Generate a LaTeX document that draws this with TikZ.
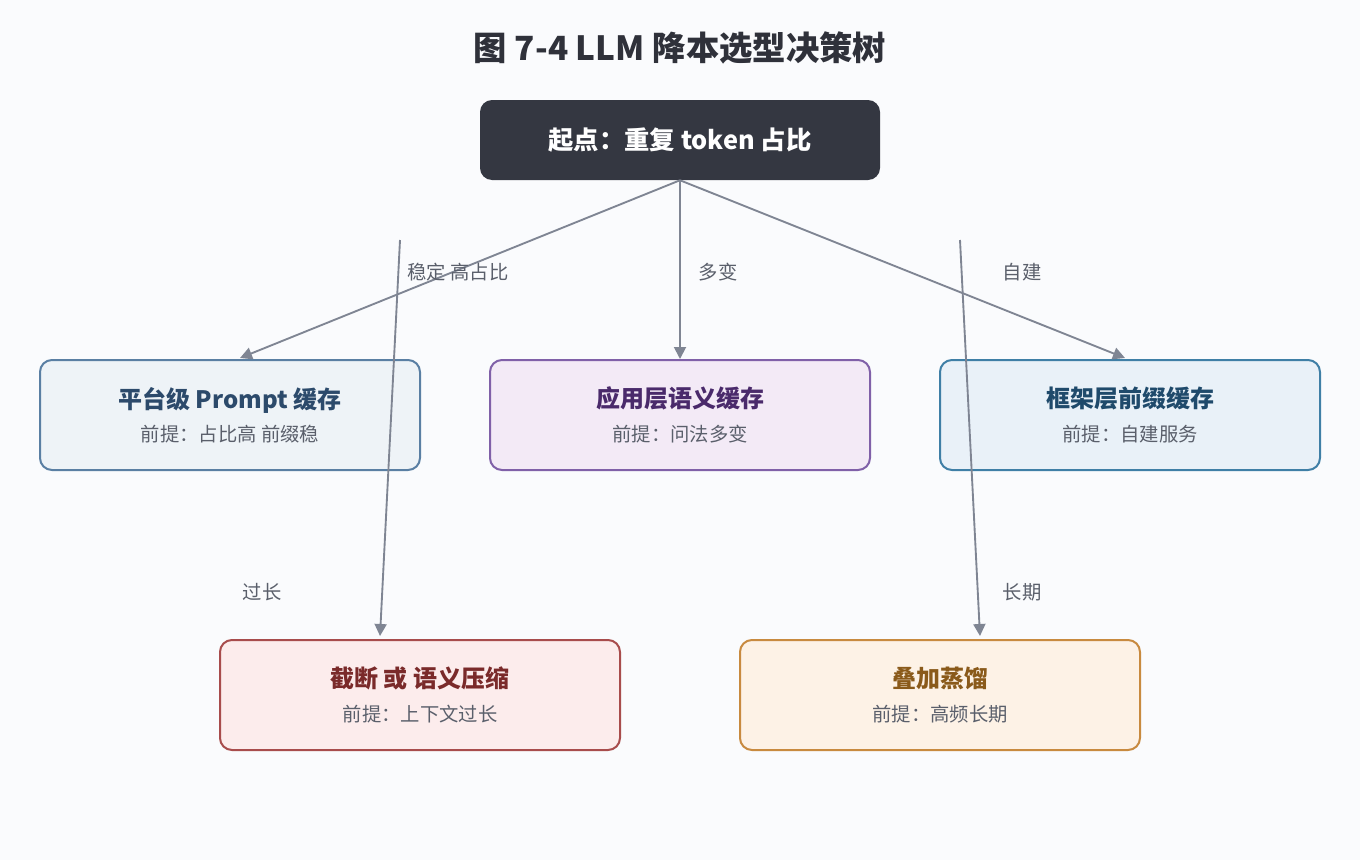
\documentclass[tikz,border=0pt]{standalone}
\usepackage{fontspec}
\setmainfont{Noto Sans CJK SC}
\usepackage{tikz}
\usetikzlibrary{arrows.meta,positioning}
\definecolor{bgcol}{HTML}{FAFBFD}
\definecolor{darkbox}{HTML}{343741}
\definecolor{arrowcol}{HTML}{7F8593}
\definecolor{labcol}{HTML}{5A5F6B}
\definecolor{platdraw}{HTML}{5A7FA3}\definecolor{platfill}{HTML}{EEF3F7}\definecolor{plattext}{HTML}{2C4A6B}
\definecolor{semdraw}{HTML}{8060A8}\definecolor{semfill}{HTML}{F3EAF6}\definecolor{semtext}{HTML}{4A2A6B}
\definecolor{fwdraw}{HTML}{3F7FA6}\definecolor{fwfill}{HTML}{E9F1F8}\definecolor{fwtext}{HTML}{1F4A6B}
\definecolor{cutdraw}{HTML}{A84C4C}\definecolor{cutfill}{HTML}{FCECEC}\definecolor{cuttext}{HTML}{7A2A2A}
\definecolor{disdraw}{HTML}{C88A3F}\definecolor{disfill}{HTML}{FDF2E6}\definecolor{distext}{HTML}{8A5A1A}
\tikzset{box/.style={draw=#1draw, fill=#1fill, line width=1.5pt, rounded corners=9pt, minimum height=82.5pt, align=center, font=\fontsize{14.5}{17}\selectfont}}
\tikzset{arc/.style={arrowcol, line width=1.4pt, -{Triangle[length=9pt,width=9pt]}}}
\tikzset{lbl/.style={text=labcol, font=\fontsize{14.5}{16}\selectfont}}
\newcommand{\boxtext}[3]{{\color{#1}\bfseries\fontsize{18}{21}\selectfont #2}\\[8pt]{\color{labcol}#3}}
\begin{document}
\begin{tikzpicture}[x=0.75pt,y=-0.75pt]
\fill[bgcol] (0,0) rectangle (1360,860);
\useasboundingbox (0,0) rectangle (1360,860);
\node (title) at (680,48) {\fontsize{25}{28}\selectfont\bfseries\color{darkbox!90!black} 图 7-4 LLM 降本选型决策树};
\node (start) at (680,140) [fill=darkbox, rounded corners=9pt, minimum width=300pt, minimum height=60pt, text=white, font=\fontsize{19}{21}\selectfont\bfseries] {起点：重复 token 占比};
\node (plat) at (230,415) [box=plat, minimum width=285pt] {\boxtext{plattext}{平台级 Prompt 缓存}{前提：占比高 前缀稳}};
\node (sem) at (680,415) [box=sem, minimum width=285pt] {\boxtext{semtext}{应用层语义缓存}{前提：问法多变}};
\node (fw) at (1130,415) [box=fw, minimum width=285pt] {\boxtext{fwtext}{框架层前缀缓存}{前提：自建服务}};
\node (cut) at (420,695) [box=cut, minimum width=300pt] {\boxtext{cuttext}{截断 或 语义压缩}{前提：上下文过长}};
\node (dis) at (940,695) [box=dis, minimum width=300pt] {\boxtext{distext}{叠加蒸馏}{前提：高频长期}};
\coordinate (from1) at (400,240);
\coordinate (from2) at (960,240);
\draw[arc] (start.south) -- (240,358);
\draw[arc] (start.south) -- (sem.north);
\draw[arc] (start.south) -- (1125,358);
\draw[arc] (from1) -- (380,636);
\draw[arc] (from2) -- (980,636);
\node[lbl] at (458,272) {稳定 高占比};
\node[lbl] at (718,272) {多变};
\node[lbl] at (1022,272) {自建};
\node[lbl] at (262,592) {过长};
\node[lbl] at (1022,592) {长期};
\end{tikzpicture}
\end{document}
